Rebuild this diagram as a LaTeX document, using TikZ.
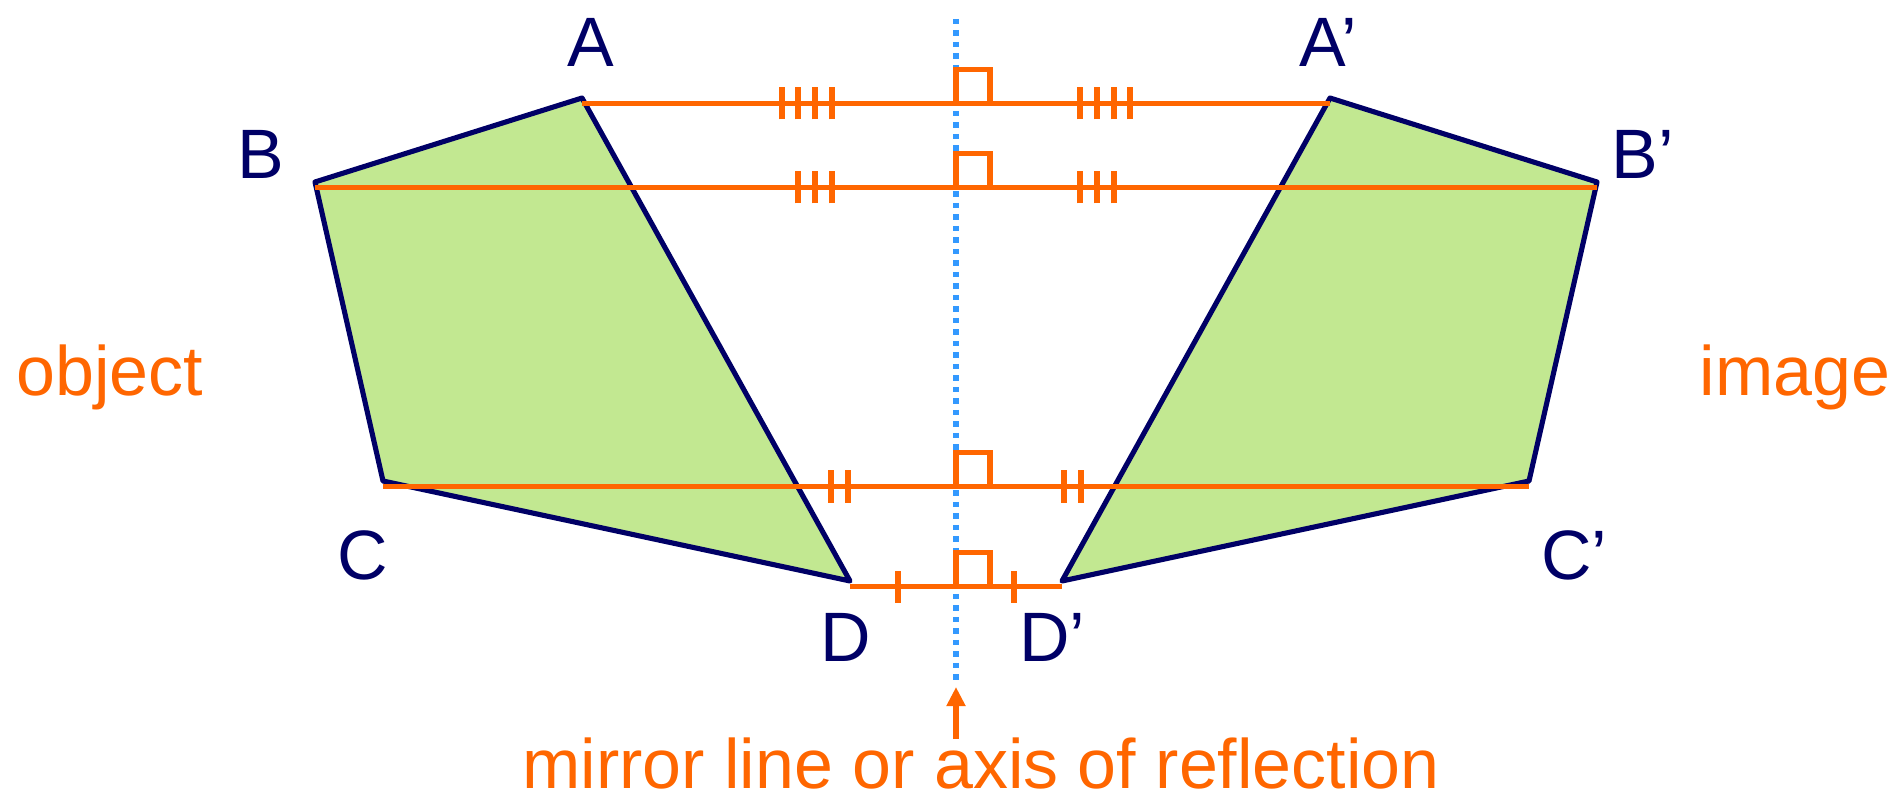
\documentclass[tikz,border=0pt]{standalone}
\usepackage{fontspec}
\setmainfont{Liberation Sans}
\usetikzlibrary{arrows.meta,calc}
\definecolor{shapenavy}{RGB}{0,0,102}
\definecolor{shapegreen}{RGB}{194,232,145}
\definecolor{markorange}{RGB}{255,102,0}
\definecolor{axisblue}{RGB}{51,153,255}
\newcommand{\mx}{9.56}
% equal-length marks, one set each side of the mirror line
\newcommand{\eqticks}[2]{%
  \foreach \dx in {#2}{
    \draw[tickmark] (\mx-\dx,#1-0.16) -- (\mx-\dx,#1+0.16);
    \draw[tickmark] (\mx+\dx,#1-0.16) -- (\mx+\dx,#1+0.16);
  }}
\newcommand{\perpbox}[1]{\draw[tickmark] (\mx,#1) rectangle (\mx+0.34,#1+0.34);}

\begin{document}
\begin{tikzpicture}[
  edge/.style={shapenavy,line width=1.45pt,line join=round},
  joinline/.style={markorange,line width=1.7pt},
  tickmark/.style={markorange,line width=1.7pt},
  lbl/.style={shapenavy,inner sep=0pt,anchor=base west,font=\fontsize{19.9}{24}\selectfont},
  note/.style={markorange,inner sep=0pt,font=\fontsize{19.9}{24}\selectfont}]
  \useasboundingbox (0,0) rectangle (18.96,8.02);
  % vertices
  \coordinate (A) at (5.82,7.04);
  \coordinate (B) at (3.15,6.20);
  \coordinate (C) at (3.83,3.21);
  \coordinate (D) at (8.50,2.21);
  \coordinate (Ar) at (13.30,7.04);
  \coordinate (Br) at (15.97,6.20);
  \coordinate (Cr) at (15.29,3.21);
  \coordinate (Dr) at (10.62,2.21);
  % object and image
  \filldraw[edge,fill=shapegreen] (A) -- (B) -- (C) -- (D) -- cycle;
  \filldraw[edge,fill=shapegreen] (Ar) -- (Br) -- (Cr) -- (Dr) -- cycle;
  % mirror line
  \coordinate (top) at (\mx,7.83);
  \coordinate (bot) at (\mx,1.17);
  \draw[axisblue,line width=1.8pt,dash pattern=on 0.55mm off 0.6mm] (top) -- (bot);
  % lines joining each point to its image
  \foreach \p in {A,B,C,D}{
    \draw[joinline] ([yshift=-0.55mm]\p) -- ([yshift=-0.55mm]\p r);
  }
  \eqticks{6.985}{1.24,1.41,1.58,1.74}
  \eqticks{6.145}{1.24,1.41,1.58}
  \eqticks{3.155}{1.08,1.25}
  \eqticks{2.155}{0.58}
  \perpbox{6.985}
  \perpbox{6.145}
  \perpbox{3.155}
  \perpbox{2.155}
  % labels
  \node[lbl] (lblA) at (5.667,7.353) {A};
  \node[lbl] (lblAr) at (12.99,7.353) {A’};
  \node[lbl] (lblB) at (2.37,6.237) {B};
  \node[lbl] (lblBr) at (16.11,6.237) {B’};
  \node[lbl] (lblC) at (3.365,2.23) {C};
  \node[lbl] (lblCr) at (15.405,2.23) {C’};
  \node[lbl] (lblD) at (8.195,1.403) {D};
  \node[lbl] (lblDr) at (10.185,1.403) {D’};
  \node[note,anchor=base west] (object) at (0.158,4.06) {object};
  \node[note,anchor=base west] (image) at (16.99,4.06) {image};
  \node[note,anchor=base] (mirror) at (9.81,0.14) {mirror line or axis of reflection};
  \coordinate (tail) at (\mx,0.63);
  \coordinate (tip) at (\mx,1.15);
  \draw[markorange,line width=1.6pt,-{Triangle[length=1.9mm,width=1.8mm]}] (tail) -- (tip);
\end{tikzpicture}
\end{document}
